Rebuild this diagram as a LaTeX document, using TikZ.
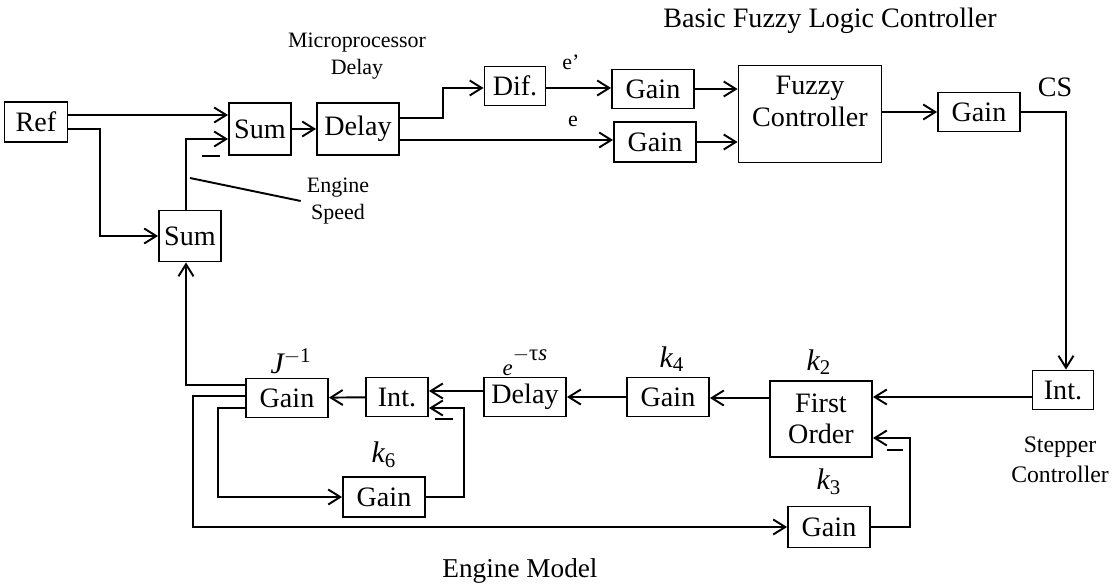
\documentclass[tikz,border=0pt]{standalone}
\usepackage{fontspec}
\setmainfont{Liberation Serif}
\usetikzlibrary{arrows.meta, positioning}

\begin{document}
\begin{tikzpicture}[x=0.02cm, y=-0.02cm,
    block/.style={rectangle, draw, line width=1.1pt, inner sep=1pt,
                  minimum width=1.64cm, minimum height=0.78cm, align=center,
                  font=\fontsize{16}{18}\selectfont},
    arr/.style={-{Straight Barb[length=2.4mm, width=3mm]}, line width=1.1pt},
    wire/.style={line width=1.1pt},
    lbl/.style={align=center, font=\fontsize{12.5}{15.5}\selectfont},
    gain/.style={font=\fontsize{17}{19}\selectfont\itshape}
]
\useasboundingbox (0,0) rectangle (1115,587);

% fuzzy logic controller
\node[block, minimum width=1.26cm, minimum height=0.8cm] (ref) at (36,122) {Ref};
\node[block, minimum width=1.24cm, minimum height=1.04cm] (sum1) at (260,129) {Sum};
\node[block, minimum height=1.04cm] (dly1) at (358,129) {Delay};
\node[block, minimum width=1.24cm, minimum height=1.02cm] (sum2) at (190,236) {Sum};
\node[block, minimum width=1.22cm] (dif) at (515,86) {Dif.};
\node[block] (g1) at (653,89) {Gain};
\node[block, minimum height=0.8cm] (g2) at (655,142) {Gain};
\node[block, minimum width=2.86cm, minimum height=1.94cm, text depth=0.5cm] (fuzzy) at (810,114) {Fuzzy\\Controller};
\node[block] (gcs) at (979,112) {Gain};

% engine model
\node[block, minimum width=1.22cm] (int1) at (1063,390) {Int.};
\node[block, minimum width=2.04cm, minimum height=1.52cm] (fo) at (821,419) {First\\Order};
\node[block, minimum height=0.82cm] (g3) at (829,527) {Gain};
\node[block] (g4) at (668,397) {Gain};
\node[block] (dly2) at (525,397) {Delay};
\node[block, minimum width=1.24cm] (int2) at (397,397) {Int.};
\node[block] (gj) at (287,398) {Gain};
\node[block, minimum height=0.8cm] (g6) at (384,497) {Gain};

% labels
\node[lbl] (mpd) at (357,56) {Microprocessor\\Delay};
\node[lbl] (spd) at (338,201) {Engine\\Speed};
\node[lbl, font=\fontsize{16}{18}\selectfont] (bflc) at (830,21) {Basic Fuzzy Logic Controller};
\node[lbl, font=\fontsize{16}{18}\selectfont] (cs) at (1055,87) {CS};
\node[lbl] (ep) at (571,62) {e'};
\node[lbl] (e) at (573,121) {e};
\node[lbl, font=\fontsize{13.5}{17}\selectfont] (stp) at (1060,460) {Stepper\\Controller};
\node[lbl, font=\fontsize{15.5}{18}\selectfont] (eng) at (520,571) {Engine Model};
\node[gain] (k2) at (819,362) {k\textsubscript{\upshape 2}};
\node[gain] (k3) at (829,482) {k\textsubscript{\upshape 3}};
\node[gain] (k4) at (672,359) {k\textsubscript{\upshape 4}};
\node[gain] (k6) at (384,455) {k\textsubscript{\upshape 6}};
\node[gain] (jinv) at (291,361) {J\textsuperscript{\upshape $-$1}};
\node[gain, font=\fontsize{13}{15}\selectfont\itshape] (tau) at (525,362) {e\raisebox{1.5ex}{\upshape $-$τ\itshape s}};

% signals
\draw[arr] (ref.east |- 0,115) -- (sum1.west |- 0,115);
\draw[arr] (ref.east |- 0,129) -| (100,236) -- (sum2.west);
\draw[arr] (sum2.north -| 186,0) |- (sum1.west |- 0,139);
\draw[arr] (sum1) -- (dly1);
\draw[arr] (dly1.east |- 0,118) -- (443,118) |- (dif.west |- 0,88);
\draw[arr] (dly1.east |- 0,140) -- (g2.west |- 0,140);
\draw[arr] (dif.east |- 0,88) -- (g1.west |- 0,88);
\draw[arr] (g1.east) -- (fuzzy.west |- g1.east);
\draw[arr] (g2.east) -- (fuzzy.west |- g2.east);
\draw[arr] (fuzzy.east |- gcs.west) -- (gcs.west);
\draw[arr] (gcs.east) -| (int1.north -| 1066,0);
\draw[arr] (int1.west |- 0,397) -- (fo.east |- 0,397);
\draw[arr] (g3.east) -| (910,438) -- (fo.east |- 0,438);
\draw[arr] (fo.west |- 0,398) -- (g4.east |- 0,398);
\draw[arr] (g4) -- (dly2);
\draw[arr] (dly2.west |- 0,391) -- (int2.east |- 0,391);
\draw[arr] (g6.east) -| (464,408) -- (int2.east |- 0,408);
\draw[arr] (int2) -- (gj);
\draw[arr] (gj.west |- 0,385) -| (sum2.south -| 186,0);
\draw[arr] (gj.west |- 0,396) -| (193,527) -- (g3.west);
\draw[arr] (gj.west |- 0,408) -| (218,497) -- (g6.west);

% minus signs and speed pointer
\draw[wire] (202,156) -- (220,156);
\draw[wire] (435,419) -- (453,419);
\draw[wire] (887,450) -- (903,450);
\draw[wire] (190,178) -- (spd.west);
\end{tikzpicture}
\end{document}
